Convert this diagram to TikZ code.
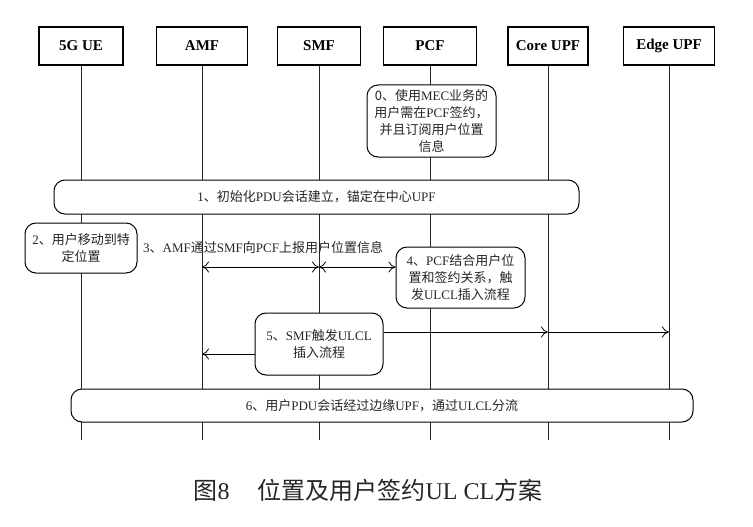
\documentclass[tikz,border=0pt]{standalone}
\usepackage{fontspec}
\setmainfont{Liberation Serif}
\newfontfamily\zh{Noto Sans CJK SC}
\usetikzlibrary{arrows.meta}
\begin{document}
\begin{tikzpicture}[x=1pt,y=-1pt,
  hdr/.style={draw,line width=1.6pt,minimum height=38pt,inner sep=0pt,font=\bfseries\fontsize{15}{18}\selectfont},
  life/.style={line width=0.8pt,black!85},
  stepbox/.style={draw,line width=1pt,rounded corners=11pt,fill=white,align=center,inner sep=0pt,font=\fontsize{13}{17}\selectfont,text=black!85},
  msg/.style={line width=0.8pt,-{To[length=7pt,width=11pt]}},
  msgb/.style={line width=0.8pt,{To[length=7pt,width=11pt]}-{To[length=7pt,width=11pt]}}]
\useasboundingbox[fill=white] (0,0) rectangle (753,527);

% headers
\node[hdr,minimum width=84pt] (ue) at (81,46) {5G UE};
\node[hdr,minimum width=91pt] (amf) at (202,46) {AMF};
\node[hdr,minimum width=83pt] (smf) at (319,46) {SMF};
\node[hdr,minimum width=93pt] (pcf) at (430,46) {PCF};
\node[hdr,minimum width=80pt] (cupf) at (548,46) {Core UPF};
\node[hdr,minimum width=91pt] (eupf) at (669,46) {Edge UPF};

% lifeline ends
\coordinate (ueb) at (81,440);
\coordinate (amfb) at (202,440);
\coordinate (smfb) at (319,440);
\coordinate (pcfb) at (430,440);
\coordinate (cupfb) at (548,440);
\coordinate (eupfb) at (669,440);
\foreach \n in {ue,amf,smf,pcf,cupf,eupf}{\draw[life] (\n.south) -- (\n b);}

% step boxes
\node[stepbox,minimum width=129pt,minimum height=72pt] (s0) at (431.5,121)
  {{\zh 0、使用}MEC{\zh 业务的}\\{\zh 用户需在}PCF{\zh 签约，}\\{\zh 并且订阅用户位置}\\{\zh 信息}};
\node[stepbox,minimum width=525pt,minimum height=34pt] (s1) at (316.5,197)
  {1{\zh 、初始化}PDU{\zh 会话建立，锚定在中心}UPF};
\node[stepbox,minimum width=112pt,minimum height=50pt] (s2) at (81,248)
  {2{\zh 、用户移动到特}\\{\zh 定位置}};
\node[anchor=west,inner sep=0pt,font=\fontsize{13}{17}\selectfont,text=black!85] (t3) at (143,248)
  {3{\zh 、}AMF{\zh 通过}SMF{\zh 向}PCF{\zh 上报用户位置信息}};
\node[stepbox,minimum width=129pt,minimum height=61pt] (s4) at (460.5,277.5)
  {4{\zh 、}PCF{\zh 结合用户位}\\{\zh 置和签约关系，触}\\{\zh 发}ULCL{\zh 插入流程}};
\node[stepbox,minimum width=622pt,minimum height=33pt] (s6) at (382,405.5)
  {6{\zh 、用户}PDU{\zh 会话经过边缘}UPF{\zh ，通过}ULCL{\zh 分流}};

% message 3
\coordinate (a3l) at (202,267);
\coordinate (a3m) at (319,267);
\draw[msgb] (a3l) -- (a3m);
\draw[msgb] (a3m) -- (s4.west |- a3m);

% message 5
\node[stepbox,minimum width=128pt,minimum height=62pt] (s5) at (319,344)
  {5{\zh 、}SMF{\zh 触发}ULCL\\{\zh 插入流程}};
\coordinate (a5c) at (548,332);
\coordinate (a5e) at (669,332);
\coordinate (a5a) at (202,354);
\draw[msg] (s5.east |- a5c) -- (a5c);
\draw[msg] (a5c) -- (a5e);
\draw[msg] (s5.west |- a5a) -- (a5a);

% caption
\node[font=\fontsize{24}{27}\selectfont,text=black!85,inner sep=0pt] (cap) at (368,490)
  {{\zh 图}8\hspace{28pt}{\zh 位置及用户签约}UL CL{\zh 方案}};
\end{tikzpicture}
\end{document}
